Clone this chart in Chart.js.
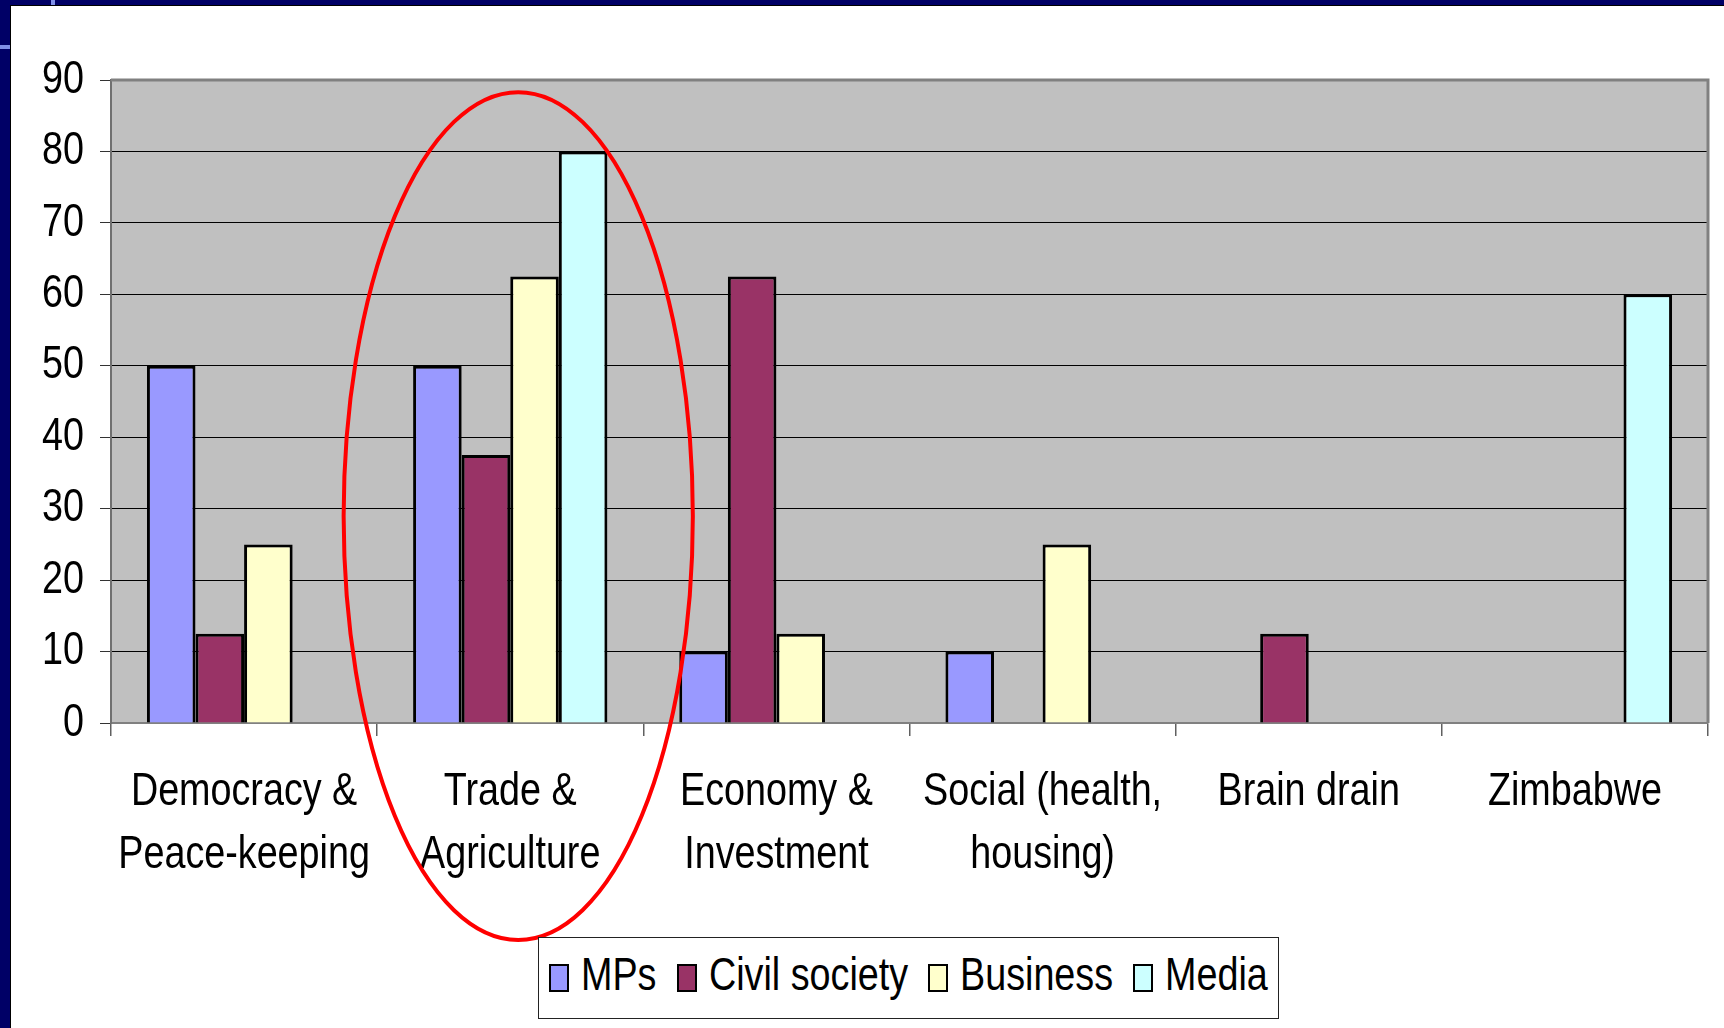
<!DOCTYPE html>
<html>
<head>
<meta charset="utf-8">
<script src="https://cdn.jsdelivr.net/npm/chart.js@4"></script>
<style>
  html, body { margin: 0; padding: 0; }
  body { width: 1724px; height: 1028px; background: #000066; position: relative; overflow: hidden;
         font-family: 'Liberation Sans', Arial, sans-serif; }
  #sheet { position: absolute; left: 10px; top: 5px; right: 0; bottom: 0; background: #fff;
           border-top: 1px solid #000; border-left: 1px solid #000; }
  .mark { position: absolute; background: #7f8fe8; }
  #wrap { position: absolute; left: 0; top: 0; width: 1724px; height: 1028px; }
  #legend { position: absolute; left: 538px; top: 937px; width: 739px; height: 80px;
            border: 1px solid #222; background: #fff; display: flex; align-items: center;
            justify-content: center; font-size: 46px; color: #000; white-space: nowrap; }
  #legend .item { display: flex; align-items: center; margin: 0 10px; }
  #legend .sw { width: 16px; height: 24px; border: 2px solid #000; margin-right: 12px; flex: none; }
  #legend .txt { display: inline-block; position: relative; top: -4px;
                 transform: scaleX(0.82); transform-origin: left center; }
</style>
</head>
<body>
<div id="sheet"></div>
<div class="mark" style="left:51px;top:0;width:4px;height:5px"></div>
<div class="mark" style="left:0;top:45px;width:10px;height:4px"></div>
<div id="wrap"><canvas id="myChart" width="1724" height="1028"></canvas></div>
<div id="legend"></div>
<script>
const categories = [
  ['Democracy &', 'Peace-keeping'],
  ['Trade &', 'Agriculture'],
  ['Economy &', 'Investment'],
  ['Social (health,', 'housing)'],
  'Brain drain',
  'Zimbabwe'
];
const seriesNames = ['MPs', 'Civil society', 'Business', 'Media'];
const mps      = [50, 50, 10, 10, null, null];
const civil    = [12.5, 37.5, 62.5, null, 12.5, null];
const business = [25, 62.5, 12.5, 25, null, null];
const media    = [null, 80, null, null, null, 60];
const yTicks   = [0, 10, 20, 30, 40, 50, 60, 70, 80, 90];
const colors   = ['#9999FF', '#993366', '#FFFFCC', '#CCFFFF'];

const fontFamily = "'Liberation Sans', Arial, sans-serif";
const NARROW = 0.82; // original uses Arial Narrow, not installed here

// squeeze canvas text horizontally to look like Arial Narrow
const narrowText = {
  id: 'narrowText',
  beforeInit(chart) {
    const c = chart.ctx;
    const orig = c.fillText.bind(c);
    c.fillText = function (text, x, y) {
      c.save();
      c.translate(x, y);
      c.scale(NARROW, 1);
      orig(text, 0, 0);
      c.restore();
    };
  }
};

// grey plot area + gray frame like the excel chart
const plotArea = {
  id: 'plotArea',
  beforeDraw(chart) {
    const { ctx, chartArea: a } = chart;
    ctx.save();
    ctx.fillStyle = '#C0C0C0';
    ctx.fillRect(a.left, a.top, a.right - a.left, a.bottom - a.top);
    ctx.restore();
  },
  beforeDatasetsDraw(chart) {
    const { ctx, chartArea: a } = chart;
    ctx.save();
    ctx.strokeStyle = '#808080';
    ctx.lineWidth = 3;
    ctx.beginPath();
    ctx.moveTo(a.left, a.top);
    ctx.lineTo(a.right, a.top);
    ctx.lineTo(a.right, a.bottom);
    ctx.stroke();
    ctx.restore();
  }
};

// red hand-drawn circle around Trade & Agriculture
const redEllipse = {
  id: 'redEllipse',
  afterDraw(chart) {
    const { ctx, chartArea: a } = chart;
    const x = chart.scales.x, y = chart.scales.y;
    const catW = (a.right - a.left) / categories.length;
    const cx = x.getPixelForValue(1) + catW * 0.03;
    const top = y.getPixelForValue(88.3);
    const bottom = a.bottom + 217;
    ctx.save();
    ctx.strokeStyle = '#FF0000';
    ctx.lineWidth = 4;
    ctx.beginPath();
    ctx.ellipse(cx, (top + bottom) / 2, catW * 0.656, (bottom - top) / 2, 0, 0, Math.PI * 2);
    ctx.stroke();
    ctx.restore();
  }
};

const seriesData = [mps, civil, business, media];

const ctx = document.getElementById('myChart').getContext('2d');
const chart = new Chart(ctx, {
  type: 'bar',
  data: {
    labels: categories,
    datasets: seriesNames.map((name, i) => ({
      label: name,
      data: seriesData[i],
      backgroundColor: colors[i],
      borderColor: '#000',
      borderWidth: 3,
      borderSkipped: 'start',
      barPercentage: 1,
      categoryPercentage: 0.73,
    }))
  },
  options: {
    responsive: false,
    animation: false,
    layout: { padding: { top: 80, right: 16, left: 0, bottom: 0 } },
    plugins: { legend: { display: false }, tooltip: { enabled: false } },
    scales: {
      x: {
        afterFit(s) { s.height = 305; },
        grid: { offset: true, drawOnChartArea: false, drawTicks: true, tickLength: 13, color: '#606060', lineWidth: 1.5 },
        border: { color: '#808080', width: 2 },
        ticks: {
          color: '#000', padding: 25, maxRotation: 0, autoSkip: false,
          font: { family: fontFamily, size: 46, lineHeight: 1.36 }
        }
      },
      y: {
        min: 0, max: 90,
        afterFit(s) { s.width = 111; },
        afterBuildTicks(s) { s.ticks = yTicks.map(v => ({ value: v })); },
        grid: { color: '#000', lineWidth: 1, tickLength: 11, tickColor: '#333' },
        border: { color: '#707070', width: 2 },
        ticks: {
          color: '#000', padding: 16,
          font: { family: fontFamily, size: 46 }
        }
      }
    }
  },
  plugins: [narrowText, plotArea, redEllipse]
});

// legend as html, boxed like the original
const legendEl = document.getElementById('legend');
seriesNames.forEach((name, i) => {
  const item = document.createElement('div');
  item.className = 'item';
  item.innerHTML = '<span class="sw" style="background:' + colors[i] + '"></span><span class="txt">' + name + '</span>';
  legendEl.appendChild(item);
});
document.querySelectorAll('#legend .txt').forEach(t => {
  t.style.marginRight = (-(1 - NARROW) * t.offsetWidth) + 'px';
});
</script>
</body>
</html>
